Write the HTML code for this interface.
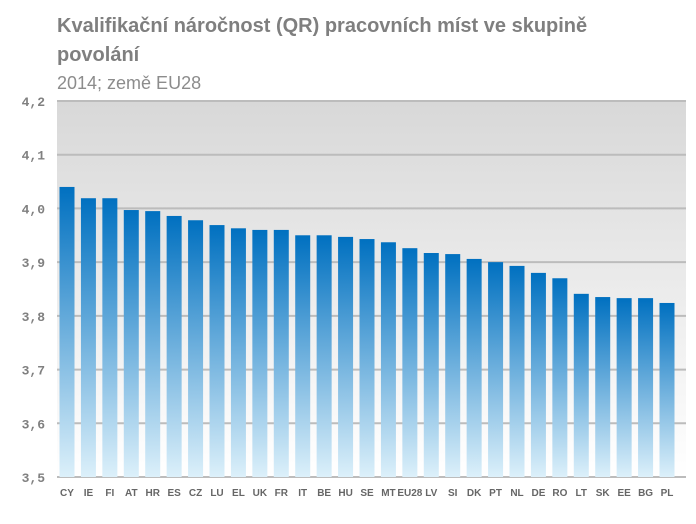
<!DOCTYPE html>
<html><head><meta charset="utf-8"><style>
body{margin:0;background:#fff;width:696px;height:519px;overflow:hidden;font-family:"Liberation Sans",sans-serif}
</style></head><body>
<svg width="696" height="519">
<defs>
<linearGradient id="bg" x1="0" y1="0" x2="0" y2="1"><stop offset="0" stop-color="#d8d8d8"/><stop offset="1" stop-color="#ffffff"/></linearGradient>
<linearGradient id="bar" x1="0" y1="0" x2="0" y2="1"><stop offset="0" stop-color="#0070c0"/><stop offset="1" stop-color="#dcf0fa"/></linearGradient>
</defs>
<text x="57" y="32" font-size="20" font-weight="bold" fill="#7f7f7f">Kvalifikační náročnost (QR) pracovních míst ve skupině</text>
<text x="57" y="61" font-size="20" font-weight="bold" fill="#7f7f7f">povolání</text>
<text x="57" y="89" font-size="18" fill="#8c8c8c">2014; země EU28</text>
<rect x="57" y="101" width="629" height="376" fill="url(#bg)"/>
<g id="grid"></g><g id="bars"></g><g id="labels"></g>
</svg>
<script>
const categories=["CY","IE","FI","AT","HR","ES","CZ","LU","EL","UK","FR","IT","BE","HU","SE","MT","EU28","LV","SI","DK","PT","NL","DE","RO","LT","SK","EE","BG","PL"];
const values=[4.040,4.019,4.019,3.997,3.995,3.986,3.978,3.969,3.963,3.960,3.960,3.950,3.950,3.947,3.943,3.937,3.926,3.917,3.915,3.906,3.900,3.893,3.880,3.870,3.841,3.835,3.833,3.833,3.824];
const ticks=[3.5,3.6,3.7,3.8,3.9,4.0,4.1,4.2];
const tickLabels=["3,5","3,6","3,7","3,8","3,9","4,0","4,1","4,2"];
const NS="http://www.w3.org/2000/svg";
const x0=57,x1=686,yTop=101,yBot=477,vMin=3.5,vMax=4.2;
const y=v=>yBot-(v-vMin)/(vMax-vMin)*(yBot-yTop);
const step=600/(categories.length-1);
const xc=i=>67+step*i;
const g=document.getElementById("grid"),b=document.getElementById("bars"),l=document.getElementById("labels");
ticks.forEach((t,i)=>{
 const ln=document.createElementNS(NS,"line");
 
 
 ln.setAttribute("x1",x0);ln.setAttribute("x2",x1);ln.setAttribute("y1",y(t));ln.setAttribute("y2",y(t));
 ln.setAttribute("stroke","#bcbcbc");ln.setAttribute("stroke-width","2");g.appendChild(ln);
 const tx=document.createElementNS(NS,"text");
 
 
 tx.setAttribute("x",45);tx.setAttribute("y",y(t)+5);tx.setAttribute("text-anchor","end");
 tx.setAttribute("font-family","Liberation Mono, monospace");tx.setAttribute("font-size","13");tx.setAttribute("font-weight","bold");tx.setAttribute("fill","#808080");
 tx.textContent=tickLabels[i];l.appendChild(tx);
});
categories.forEach((c,i)=>{
 const r=document.createElementNS(NS,"rect");
 
 
 const w=15;r.setAttribute("x",xc(i)-w/2);r.setAttribute("width",w);
 r.setAttribute("y",y(values[i]));r.setAttribute("height",yBot-y(values[i]));r.setAttribute("fill","url(#bar)");b.appendChild(r);
 const tx=document.createElementNS(NS,"text");
 
 
 tx.setAttribute("x",xc(i));tx.setAttribute("y",496);tx.setAttribute("text-anchor","middle");
 tx.setAttribute("font-size","10");tx.setAttribute("font-weight","bold");tx.setAttribute("fill","#666");
 tx.textContent=c;l.appendChild(tx);
});
</script>
</body></html>
